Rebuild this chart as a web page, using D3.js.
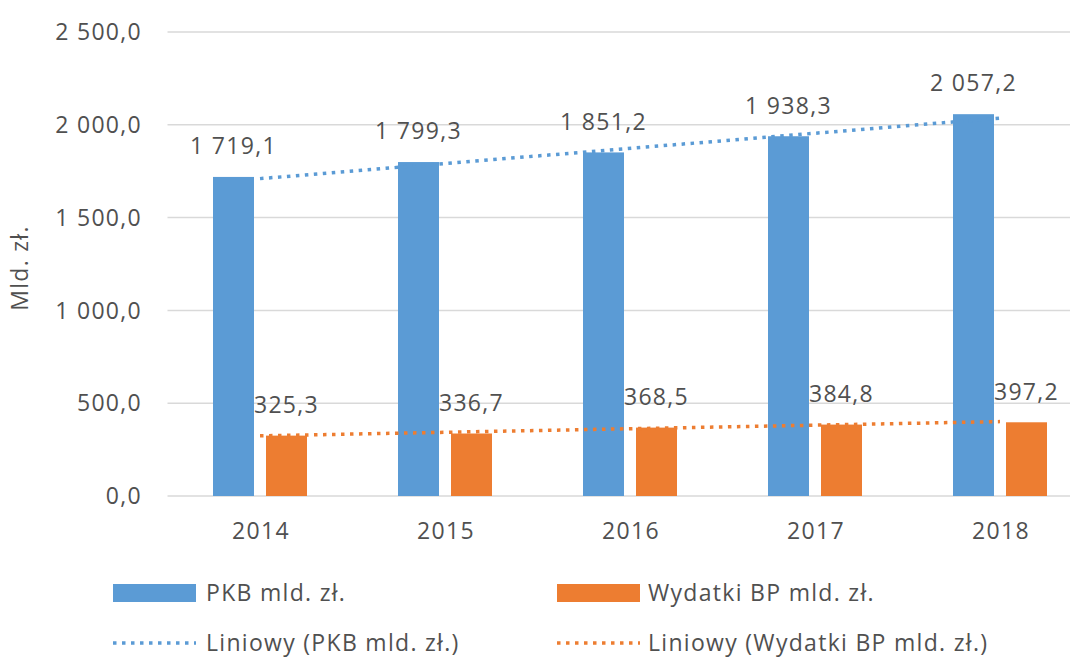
<!DOCTYPE html>
<html>
<head>
	<meta charset="utf-8">
	<title>PKB i wydatki BP</title>
	<script type="text/javascript" src="https://cdn.jsdelivr.net/npm/d3@7"></script>
	<style type="text/css">
		body { margin: 0; background: #fff; }
		text { font-family: "Open Sans", sans-serif; font-size: 23px; fill: #505050; letter-spacing: 1.3px; }
	</style>
</head>
<body>

<div id="chart"></div>

<script type="text/javascript">
// dane z wykresu
const years = ["2014", "2015", "2016", "2017", "2018"];
const pkb = [1719.1, 1799.3, 1851.2, 1938.3, 2057.2];
const wydatki = [325.3, 336.7, 368.5, 384.8, 397.2];
const yTicks = [0, 500, 1000, 1500, 2000, 2500];
const seriesNames = ["PKB mld. zł.", "Wydatki BP mld. zł."];
const trendNames = ["Liniowy (PKB mld. zł.)", "Liniowy (Wydatki BP mld. zł.)"];
const colors = ["#5B9BD5", "#ED7D31"];

const W = 1070, H = 660;
const plot = {left: 167.5, right: 1092.5, top: 32, bottom: 496};

const fmt = function(v) {
    // format polski: spacja jako separator tysięcy, przecinek dziesiętny
    const s = v.toFixed(1).split(".");
    const int = s[0].replace(/\B(?=(\d{3})+(?!\d))/g, " ");
    return int + "," + s[1];
};

const x = d3.scaleBand()
    .domain(years)
    .range([plot.left, plot.right]);

const x1 = d3.scaleBand()
    .domain([0, 1])
    .range([-47, 47])
    .paddingInner(0.2264);

const y = d3.scaleLinear()
    .domain([0, 2500])
    .range([plot.bottom, plot.top]);

const svg = d3.select("#chart").append("svg")
    .attr("width", W)
    .attr("height", H);

// siatka pozioma
svg.selectAll(".grid").data(yTicks).enter()
    .append("line")
    .attr("class", "grid")
    .attr("x1", plot.left)
    .attr("x2", plot.right)
    .attr("y1", function(d) { return y(d); })
    .attr("y2", function(d) { return y(d); })
    .style("stroke", "#D9D9D9")
    .style("stroke-width", "1.5px");

// etykiety osi Y
svg.selectAll(".ytick").data(yTicks).enter()
    .append("text")
    .attr("x", 142)
    .attr("y", function(d) { return y(d); })
    .attr("dy", "0.36em")
    .attr("text-anchor", "end")
    .text(function(d) { return fmt(d); });

svg.append("text")
    .attr("transform", "translate(28," + 268 + ") rotate(-90)")
    .attr("text-anchor", "middle")
    .text("Mld. zł.");

// etykiety osi X
svg.selectAll(".xtick").data(years).enter()
    .append("text")
    .attr("x", function(d) { return x(d) + x.bandwidth() / 2 + 1; })
    .attr("y", 531)
    .attr("dy", "0.36em")
    .attr("text-anchor", "middle")
    .text(function(d) { return d; });

const series = [pkb, wydatki];

// słupki
series.forEach(function(vals, s) {
    svg.selectAll(".bar" + s).data(vals).enter()
        .append("rect")
        .attr("x", function(d, i) { return x(years[i]) + x.bandwidth() / 2 + x1(s); })
        .attr("width", x1.bandwidth())
        .attr("y", function(d) { return y(d); })
        .attr("height", function(d) { return y(0) - y(d); })
        .style("fill", colors[s]);
});

// linie trendu (regresja liniowa, jak w Excelu)
series.forEach(function(vals, s) {
    const n = vals.length;
    const mx = (n + 1) / 2;
    const my = d3.mean(vals);
    let num = 0, den = 0;
    vals.forEach(function(v, i) { num += (i + 1 - mx) * (v - my); den += (i + 1 - mx) * (i + 1 - mx); });
    const slope = num / den;
    const fit = function(k) { return my + slope * (k - mx); };
    svg.append("line")
        .attr("x1", x(years[0]) + x.bandwidth() / 2)
        .attr("x2", x(years[n - 1]) + x.bandwidth() / 2)
        .attr("y1", y(fit(1)))
        .attr("y2", y(fit(n)))
        .style("stroke", colors[s])
        .style("stroke-width", "3.5px")
        .style("stroke-dasharray", "3.5,5.5");
});

// etykiety danych
series.forEach(function(vals, s) {
    svg.selectAll(".lab" + s).data(vals).enter()
        .append("text")
        .attr("x", function(d, i) { return x(years[i]) + x.bandwidth() / 2 + x1(s) + x1.bandwidth() / 2; })
        .attr("y", function(d) { return y(d) - 31; })
        .attr("dy", "0.36em")
        .attr("text-anchor", "middle")
        .text(function(d) { return fmt(d); });
});

// legenda
const legX = [113, 557];
const legTextX = [206, 648];
seriesNames.forEach(function(name, s) {
    svg.append("rect")
        .attr("x", legX[s])
        .attr("y", 584)
        .attr("width", 83)
        .attr("height", 18)
        .style("fill", colors[s]);
    svg.append("text")
        .attr("x", legTextX[s])
        .attr("y", 593)
        .attr("dy", "0.36em")
        .text(name);
});
trendNames.forEach(function(name, s) {
    svg.append("line")
        .attr("x1", legX[s])
        .attr("x2", legX[s] + 83)
        .attr("y1", 643)
        .attr("y2", 643)
        .style("stroke", colors[s])
        .style("stroke-width", "3.5px")
        .style("stroke-dasharray", "3.5,5.5");
    svg.append("text")
        .attr("x", legTextX[s])
        .attr("y", 643)
        .attr("dy", "0.36em")
        .text(name);
});
</script>

</body>
</html>
